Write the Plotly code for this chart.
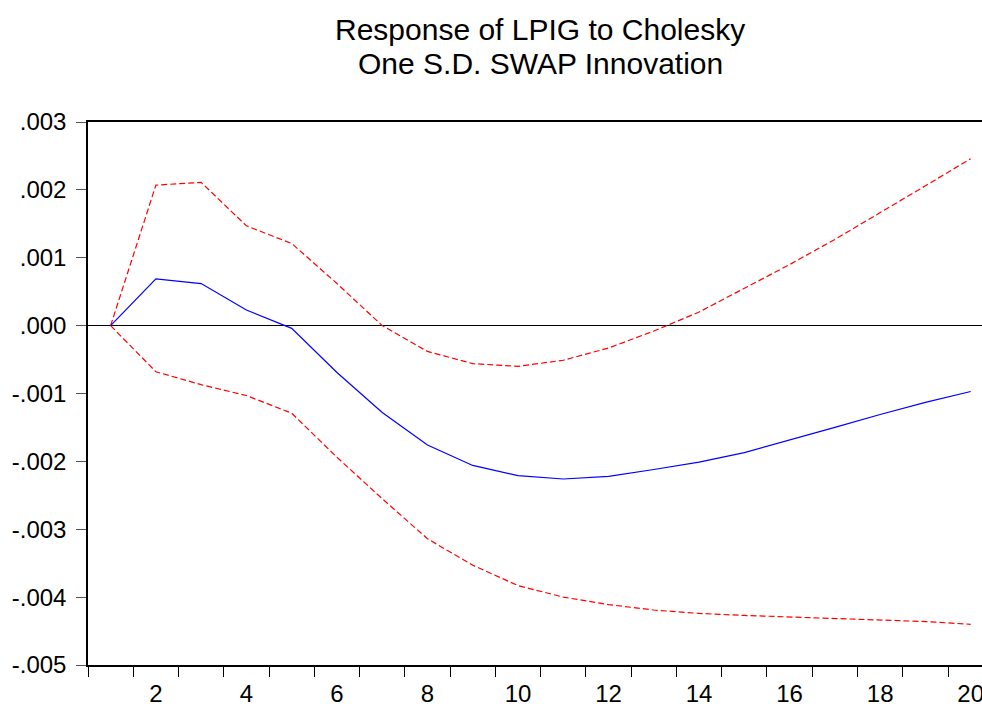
import plotly.graph_objects as go

periods = list(range(1, 21))
response = [0.0, 0.00069, 0.00062, 0.00023, -0.00004, -0.00069, -0.00128, -0.00176, -0.00206, -0.00221,
            -0.00226, -0.00222, -0.00212, -0.00201, -0.00187, -0.00169, -0.00150, -0.00131, -0.00113, -0.00097]
upper = [0.0, 0.00207, 0.00211, 0.00147, 0.00121, 0.00062, 0.0, -0.00038, -0.00056, -0.00060,
         -0.00051, -0.00033, -0.00008, 0.00020, 0.00055, 0.00090, 0.00127, 0.00166, 0.00206, 0.00246]
lower = [0.0, -0.00068, -0.00087, -0.00103, -0.00129, -0.00194, -0.00255, -0.00314, -0.00353, -0.00383,
         -0.00400, -0.00411, -0.00419, -0.00424, -0.00427, -0.00429, -0.00431, -0.00433, -0.00436, -0.00440]

y_tickvals = [0.003, 0.002, 0.001, 0.0, -0.001, -0.002, -0.003, -0.004, -0.005]
y_ticktext = [".003", ".002", ".001", ".000", "-.001", "-.002", "-.003", "-.004", "-.005"]
x_tickvals = [2, 4, 6, 8, 10, 12, 14, 16, 18, 20]
x_ticktext = ["2", "4", "6", "8", "10", "12", "14", "16", "18", "20"]
title_lines = ["Response of LPIG to Cholesky", "One S.D. SWAP Innovation"]

FONT = "Liberation Sans, Arial, sans-serif"

fig = go.Figure()
fig.add_trace(go.Scatter(x=periods, y=upper, mode="lines",
                         line=dict(color="#ff0000", width=1.2, dash="6px,3px")))
fig.add_trace(go.Scatter(x=periods, y=lower, mode="lines",
                         line=dict(color="#ff0000", width=1.2, dash="6px,3px")))
fig.add_trace(go.Scatter(x=periods, y=response, mode="lines",
                         line=dict(color="#0000ff", width=1.2)))

fig.add_annotation(text=title_lines[0], xref="paper", yref="paper", x=0.5056, y=1.171,
                   xanchor="center", yanchor="middle", showarrow=False,
                   font=dict(family=FONT, size=30, color="black"))
fig.add_annotation(text=title_lines[1], xref="paper", yref="paper", x=0.5056, y=1.1085,
                   xanchor="center", yanchor="middle", showarrow=False,
                   font=dict(family=FONT, size=30, color="black"))

fig.update_layout(
    width=982, height=704,
    margin=dict(l=88, r=0, t=122, b=39, autoexpand=False),
    paper_bgcolor="white", plot_bgcolor="white",
    showlegend=False,
    font=dict(family=FONT, size=24, color="black"),
)
fig.update_xaxes(
    range=[0.5, 20.25], automargin=False, ticklabeloverflow="allow",
    tickmode="array", tickvals=x_tickvals, ticktext=x_ticktext,
    ticks="", ticklabelstandoff=6,
    minor=dict(tick0=0.5, dtick=1, ticks="outside", ticklen=10, tickcolor="black", tickwidth=1,
               showgrid=False),
    showgrid=False, zeroline=False,
    showline=True, linecolor="black", linewidth=1.5, mirror=True,
    tickfont=dict(family=FONT, size=24, color="black"),
)
fig.update_yaxes(
    range=[-0.005, 0.003], automargin=False,
    tickmode="array", tickvals=y_tickvals, ticktext=y_ticktext,
    ticks="outside", ticklen=10, tickcolor="#555555", tickwidth=1,
    ticklabelstandoff=5,
    showgrid=False,
    zeroline=True, zerolinecolor="black", zerolinewidth=1,
    showline=True, linecolor="black", linewidth=1.5, mirror=False,
    tickfont=dict(family=FONT, size=24, color="black"),
)

fig.write_html("out.html")
